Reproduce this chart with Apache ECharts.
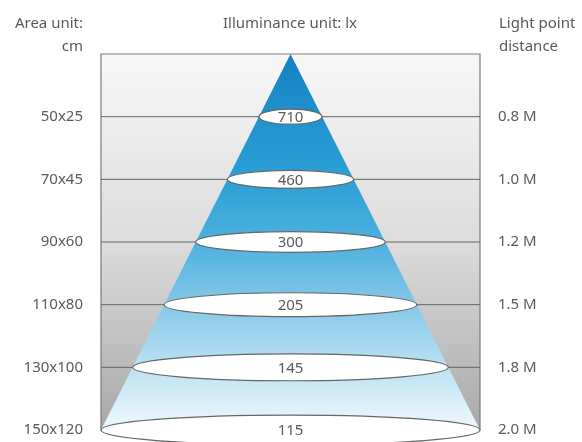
<!DOCTYPE html>
<html>
<head>
<meta charset="utf-8">
<script src="https://cdn.jsdelivr.net/npm/echarts@6/dist/echarts.min.js"></script>
<style>
  html, body { margin: 0; padding: 0; background: #fff; }
  #main { width: 582px; height: 442px; }
</style>
</head>
<body>
<div id="main"></div>
<script>
// levels from the lamp, top to bottom
const areaLabels = ['50x25', '70x45', '90x60', '110x80', '130x100', '150x120'];
const distanceLabels = ['0.8 M', '1.0 M', '1.2 M', '1.5 M', '1.8 M', '2.0 M'];
const illuminance = [710, 460, 300, 205, 145, 115];

const levelCount = illuminance.length;
const textColor = '#5a5a5a';
const font = 'Noto Sans';
const fontCss = '15px "Noto Sans"';

const chart = echarts.init(document.getElementById('main'));

// half width of the light cone at a given level (cone grows linearly)
function coneHalf(level) {
  return level / levelCount;
}

const option = {
  animation: false,
  grid: { left: 101, right: 102, top: 54, bottom: 12 },
  xAxis: { type: 'value', min: -1, max: 1, show: false },
  yAxis: [
    {
      type: 'value', inverse: true, min: 0, max: levelCount, interval: 1,
      position: 'left',
      axisLine: { show: false }, axisTick: { show: false }, splitLine: { show: false },
      axisLabel: {
        margin: 18, color: textColor, fontFamily: font, fontSize: 15,
        formatter: v => areaLabels[v - 1] || ''
      }
    },
    {
      type: 'value', inverse: true, min: 0, max: levelCount, interval: 1,
      position: 'right',
      axisLine: { show: false }, axisTick: { show: false }, splitLine: { show: false },
      axisLabel: {
        margin: 18, color: textColor, fontFamily: font, fontSize: 15,
        formatter: v => distanceLabels[v - 1] || ''
      }
    }
  ],
  graphic: [
    { type: 'text', x: 83, y: 12, style: { text: 'Area unit:\ncm', align: 'right', lineHeight: 23, fill: textColor, font: fontCss } },
    { type: 'text', x: 290, y: 12, style: { text: 'Illuminance unit: lx', align: 'center', lineHeight: 23, fill: textColor, font: fontCss } },
    { type: 'text', x: 499, y: 12, style: { text: 'Light point\ndistance', align: 'left', lineHeight: 23, fill: textColor, font: fontCss } }
  ],
  series: [
    {
      // gray backdrop + level lines
      type: 'custom',
      silent: true,
      data: [0],
      renderItem: function (params, api) {
        const tl = api.coord([-1, 0]);
        const br = api.coord([1, levelCount]);
        const children = [{
          type: 'rect',
          shape: { x: tl[0], y: tl[1], width: br[0] - tl[0], height: br[1] - tl[1] },
          style: {
            fill: new echarts.graphic.LinearGradient(0, 0, 0, 1, [
              { offset: 0, color: '#f8f8f8' },
              { offset: 0.5, color: '#dcdcdc' },
              { offset: 1, color: '#a8a8a8' }
            ]),
            stroke: '#7a7a7a', lineWidth: 1.2
          }
        }];
        for (let i = 1; i <= levelCount; i++) {
          const a = api.coord([-1, i]);
          const b = api.coord([1, i]);
          children.push({
            type: 'line',
            shape: { x1: a[0], y1: a[1], x2: b[0], y2: b[1] },
            style: { stroke: '#666', lineWidth: 1 }
          });
        }
        return { type: 'group', children: children };
      }
    },
    {
      // light cone
      type: 'custom',
      silent: true,
      data: [0],
      renderItem: function (params, api) {
        const apex = api.coord([0, 0]);
        const bl = api.coord([-coneHalf(levelCount), levelCount]);
        const brc = api.coord([coneHalf(levelCount), levelCount]);
        return {
          type: 'polygon',
          shape: { points: [apex, bl, brc] },
          style: {
            fill: new echarts.graphic.LinearGradient(0, 0, 0, 1, [
              { offset: 0, color: '#1582c3' },
              { offset: 0.33, color: '#2ba0d6' },
              { offset: 0.5, color: '#4db0de' },
              { offset: 0.7, color: '#8fcdeb' },
              { offset: 0.85, color: '#c0e4f4' },
              { offset: 1, color: '#f0f9fd' }
            ])
          }
        };
      }
    },
    {
      // illuminance ellipses
      type: 'custom',
      silent: true,
      data: illuminance.map((v, i) => [i + 1, v]),
      renderItem: function (params, api) {
        const level = api.value(0);
        const c = api.coord([0, level]);
        const r = api.coord([coneHalf(level), level]);
        const rx = r[0] - c[0];
        const ry = 6 + rx * 0.047;
        return {
          type: 'group',
          children: [
            {
              type: 'ellipse',
              shape: { cx: c[0], cy: c[1], rx: rx, ry: ry },
              style: { fill: '#fff', stroke: '#666', lineWidth: 1.2 }
            },
            {
              type: 'text',
              x: c[0], y: c[1] + 1,
              style: {
                text: String(api.value(1)), align: 'center', verticalAlign: 'middle',
                fill: textColor, font: fontCss
              }
            }
          ]
        };
      }
    }
  ]
};

chart.setOption(option);
</script>
</body>
</html>
